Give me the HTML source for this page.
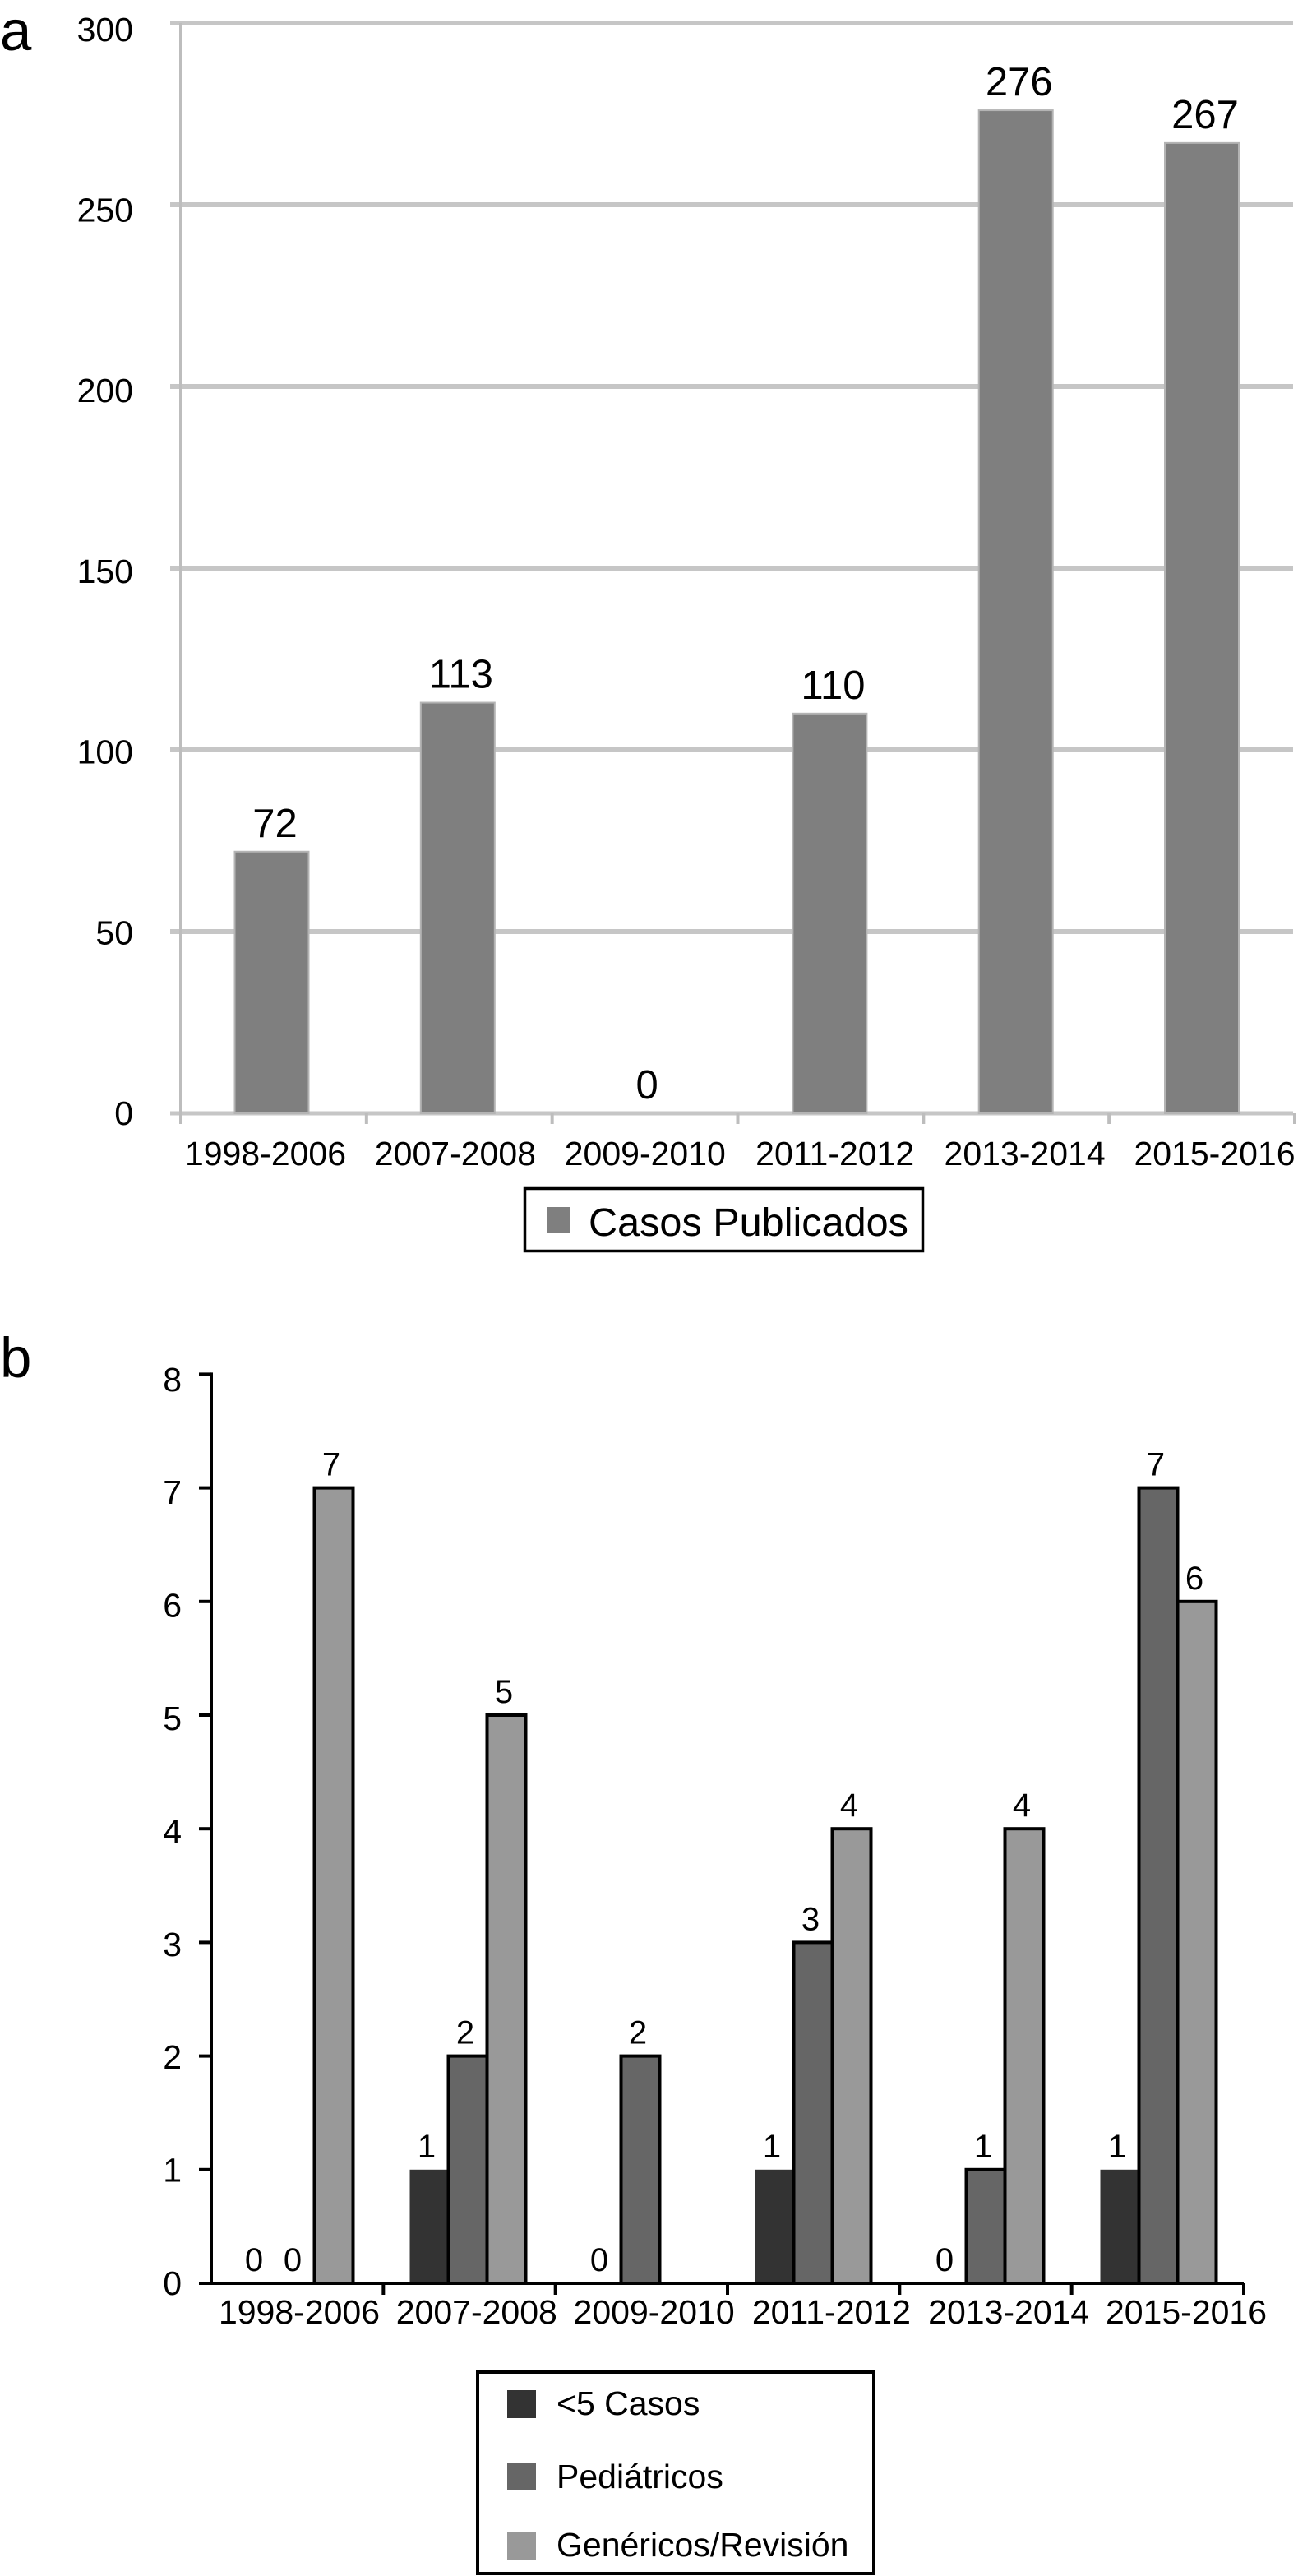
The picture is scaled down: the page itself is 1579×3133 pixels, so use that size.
<!DOCTYPE html>
<html lang="es">
<head>
<meta charset="utf-8">
<title>Casos publicados por periodo</title>
<style>
  html, body { margin: 0; padding: 0; background: #fff; }
  body { width: 1579px; height: 3133px; overflow: hidden; }
  svg { display: block; }
  text { font-family: "Liberation Sans", Arial, sans-serif; fill: #000; }
</style>
</head>
<body>
<svg id="figure" xmlns="http://www.w3.org/2000/svg" width="1579" height="3133" viewBox="0 0 1579 3133">
  <rect x="0" y="0" width="1579" height="3133" fill="#fff"/>
  <text x="0" y="61" font-size="69">a</text>
  <text x="0" y="1675" font-size="69">b</text>

  <g id="chart-a"></g>
  <g>
    <rect x="638.5" y="1445.5" width="484" height="76" fill="#fff" stroke="#000" stroke-width="3.5"/>
    <rect x="666" y="1468" width="28" height="32" fill="#7f7f7f"/>
    <text x="716" y="1503" font-size="48.6">Casos Publicados</text>
  </g>

  <g id="chart-b"></g>
  <g>
    <rect x="581" y="2885" width="482" height="245" fill="#fff" stroke="#000" stroke-width="4"/>
    <rect x="617" y="2907" width="35" height="34" fill="#333"/>
    <text x="677" y="2937" font-size="41">&lt;5 Casos</text>
    <rect x="617" y="2996" width="35" height="33" fill="#666"/>
    <text x="677" y="3026" font-size="41">Pediátricos</text>
    <rect x="617" y="3079" width="35" height="34" fill="#999"/>
    <text x="677" y="3109" font-size="41">Genéricos/Revisión</text>
  </g>
</svg>

<script>
var categories = ["1998-2006", "2007-2008", "2009-2010", "2011-2012", "2013-2014", "2015-2016"];
var casosPublicados = [72, 113, 0, 110, 276, 267];
var yTicksA = [0, 50, 100, 150, 200, 250, 300];

var menos5Casos = [0, 1, 0, 1, 0, 1];
var pediatricos = [0, 2, 2, 3, 1, 7];
var genericos = [7, 5, null, 4, 4, 6];
var yTicksB = [0, 1, 2, 3, 4, 5, 6, 7, 8];

var SVG_NS = "http://www.w3.org/2000/svg";

function make(parent, tag, attrs, content) {
  var el = document.createElementNS(SVG_NS, tag);
  for (var k in attrs) { el.setAttribute(k, attrs[k]); }
  if (content !== undefined) { el.textContent = content; }
  parent.appendChild(el);
  return el;
}

/* ---------- Panel a ---------- */
var gA = document.getElementById("chart-a");
var axA = { left: 220, right: 1575, zero: 1354, pxPerUnit: 4.42 };
function yA(v) { return axA.zero - v * axA.pxPerUnit; }
function yLabelA(v) { return 1368 - v * 4.394; }
function bandA(i) { return axA.left + (axA.right - axA.left) * i / categories.length; }
function barCenterA(i) { return 330.5 + 226.3 * i; }
function xLabelA(i) { return 323 + 230.9 * i; }

yTicksA.forEach(function (t) {
  var grid = make(gA, "line", { x1: 207, x2: axA.right - 2, y1: yA(t), y2: yA(t), stroke: "#c6c6c6", "stroke-width": t === 0 ? 5 : 6 });
  
  
  var lab = make(gA, "text", { x: 162, y: yLabelA(t), "font-size": 41, "text-anchor": "end" }, String(t));
  
  
});

var axisA = make(gA, "line", { x1: axA.left, x2: axA.left, y1: yA(300), y2: 1367, stroke: "#bdbdbd", "stroke-width": 4 });



for (var ta = 1; ta <= categories.length; ta++) {
  var tickA = make(gA, "line", { x1: bandA(ta), x2: bandA(ta), y1: axA.zero, y2: 1367, stroke: "#bdbdbd", "stroke-width": 4 });
  
  
}

categories.forEach(function (c, i) {
  var v = casosPublicados[i];
  var cx = barCenterA(i);
  var bar = make(gA, "rect", { x: cx - 45, y: yA(v), width: 90, height: axA.zero - yA(v), fill: "#7f7f7f", stroke: v === 0 ? "none" : "#b4b4b4", "stroke-width": 2 });
  
  
  var val = make(gA, "text", { x: cx + 4, y: yA(v) - 18, "font-size": 49, "text-anchor": "middle" }, String(v));
  
  
  var xl = make(gA, "text", { x: xLabelA(i), y: 1417, "font-size": 41, "text-anchor": "middle" }, c);
  
  
});

/* ---------- Panel b ---------- */
var gB = document.getElementById("chart-b");
var axB = { left: 257, right: 1513, zero: 2777, pxPerUnit: 138.2, barW: 47 };
function yB(v) { return axB.zero - v * axB.pxPerUnit; }
function yLabelB(v) { return 2791 - v * 137.4; }
function bandB(i) { return axB.left + (axB.right - axB.left) * i / categories.length; }
function barXB(i, s) { return 359 + 210 * i + (s - 1) * axB.barW - axB.barW / 2; }
function xLabelB(i) { return 364 + 215.8 * i; }

var seriesB = [
  { key: "menos-5-casos", values: menos5Casos, fill: "#333", stroke: "none" },
  { key: "pediatricos", values: pediatricos, fill: "#666", stroke: "#000" },
  { key: "genericos", values: genericos, fill: "#999", stroke: "#000" }
];

seriesB.forEach(function (s, si) {
  s.values.forEach(function (v, i) {
    if (v === null) { return; }
    var x = barXB(i, si);
    if (v > 0) {
      var bar = make(gB, "rect", { x: x, y: yB(v), width: axB.barW, height: axB.zero - yB(v), fill: s.fill, stroke: s.stroke, "stroke-width": 4 });
      
      
    }
    var val = make(gB, "text", { x: x + axB.barW / 2 - 3, y: yB(v) - 15, "font-size": 40, "text-anchor": "middle" }, String(v));
    
    
  });
});

yTicksB.forEach(function (t) {
  var tick = make(gB, "line", { x1: 242, x2: axB.left, y1: yB(t), y2: yB(t), stroke: "#000", "stroke-width": 4 });
  
  
  var lab = make(gB, "text", { x: 221, y: yLabelB(t), "font-size": 41, "text-anchor": "end" }, String(t));
  
  
});

var axisBY = make(gB, "line", { x1: axB.left, x2: axB.left, y1: yB(8) - 2, y2: axB.zero + 2, stroke: "#000", "stroke-width": 4 });



var axisBX = make(gB, "line", { x1: axB.left, x2: axB.right, y1: axB.zero, y2: axB.zero, stroke: "#000", "stroke-width": 4 });



for (var tb = 1; tb <= categories.length; tb++) {
  var tickB = make(gB, "line", { x1: bandB(tb), x2: bandB(tb), y1: axB.zero, y2: 2791, stroke: "#000", "stroke-width": 4 });
  
  
}

categories.forEach(function (c, i) {
  var xl = make(gB, "text", { x: xLabelB(i), y: 2826, "font-size": 41, "text-anchor": "middle" }, c);
  
  
});
</script>
</body>
</html>
